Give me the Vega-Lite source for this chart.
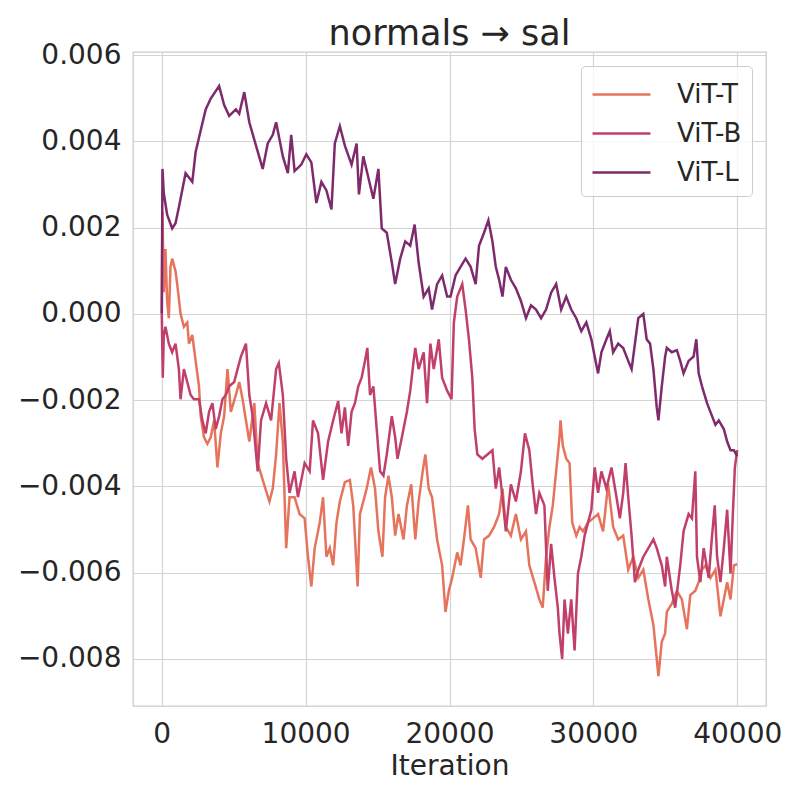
{
"$schema":"https://vega.github.io/schema/vega-lite/v6.json",
"width":633,"height":654,
"autosize":{"type":"none"},
"padding":{"left":133,"top":52,"right":34,"bottom":94},
"background":"white",
"title":{"text":"normals → sal","fontSize":35,"font":"DejaVu Sans","fontWeight":"normal","color":"#262626","offset":-11},
"config":{
"view":{"stroke":"#cccccc","strokeWidth":1.3},
"axis":{"domain":false,"ticks":false,"grid":true,"gridColor":"#d4d4d4","gridWidth":1.2,"labelFont":"DejaVu Sans","labelFontSize":28,"labelColor":"#262626","titleFont":"DejaVu Sans","titleFontSize":28,"titleFontWeight":"normal","titleColor":"#262626"},
"legend":{"orient":"top-right","offset":14,"fillColor":"rgba(255,255,255,0.8)","strokeColor":"#cccccc","cornerRadius":4,"padding":10,"symbolType":"M-1,0H2.41","symbolSize":1156,"symbolStrokeWidth":2.5,"labelFont":"DejaVu Sans","labelFontSize":26,"labelColor":"#262626","labelOffset":49,"rowPadding":7}
},
"datasets":{
"T":[{"it":0,"v":0},{"it":47,"v":0.00237},{"it":140,"v":0.0005},{"it":256,"v":0.0015},{"it":373,"v":0.0003},{"it":490,"v":-0.0001},{"it":606,"v":0.00109},{"it":723,"v":0.00128},{"it":956,"v":0.00099},{"it":1072,"v":0.00069},{"it":1305,"v":0},{"it":1538,"v":-0.0003},{"it":1772,"v":-0.0002},{"it":1888,"v":-0.00069},{"it":2121,"v":-0.00049},{"it":2354,"v":-0.00109},{"it":2587,"v":-0.00168},{"it":2704,"v":-0.00237},{"it":2937,"v":-0.00286},{"it":3170,"v":-0.00301},{"it":3403,"v":-0.00286},{"it":3636,"v":-0.00247},{"it":3869,"v":-0.00356},{"it":4103,"v":-0.00277},{"it":4336,"v":-0.00237},{"it":4569,"v":-0.00128},{"it":4802,"v":-0.00227},{"it":5151,"v":-0.00188},{"it":5385,"v":-0.00158},{"it":5618,"v":-0.00198},{"it":6084,"v":-0.00296},{"it":6433,"v":-0.00207},{"it":6666,"v":-0.00346},{"it":7016,"v":-0.00385},{"it":7482,"v":-0.00435},{"it":7716,"v":-0.00405},{"it":7949,"v":-0.00326},{"it":8182,"v":-0.00207},{"it":8415,"v":-0.00296},{"it":8648,"v":-0.00543},{"it":8881,"v":-0.00425},{"it":9231,"v":-0.00425},{"it":9580,"v":-0.00464},{"it":9930,"v":-0.00474},{"it":10163,"v":-0.00563},{"it":10396,"v":-0.00632},{"it":10629,"v":-0.00543},{"it":10979,"v":-0.00484},{"it":11212,"v":-0.00425},{"it":11445,"v":-0.00563},{"it":11678,"v":-0.00543},{"it":11911,"v":-0.00583},{"it":12144,"v":-0.00484},{"it":12378,"v":-0.00435},{"it":12727,"v":-0.0039},{"it":13076,"v":-0.00385},{"it":13309,"v":-0.00444},{"it":13613,"v":-0.00632},{"it":13776,"v":-0.00464},{"it":14009,"v":-0.00435},{"it":14242,"v":-0.00405},{"it":14545,"v":-0.00356},{"it":14824,"v":-0.00405},{"it":15058,"v":-0.00504},{"it":15337,"v":-0.00563},{"it":15524,"v":-0.00425},{"it":15757,"v":-0.00375},{"it":15990,"v":-0.00425},{"it":16223,"v":-0.00514},{"it":16456,"v":-0.00464},{"it":16806,"v":-0.00523},{"it":17039,"v":-0.00444},{"it":17342,"v":-0.00395},{"it":17622,"v":-0.00523},{"it":17855,"v":-0.00435},{"it":18135,"v":-0.00365},{"it":18321,"v":-0.00326},{"it":18554,"v":-0.00405},{"it":18787,"v":-0.00425},{"it":19137,"v":-0.00523},{"it":19487,"v":-0.00583},{"it":19720,"v":-0.00691},{"it":19953,"v":-0.00642},{"it":20186,"v":-0.00612},{"it":20536,"v":-0.00553},{"it":20769,"v":-0.00583},{"it":21003,"v":-0.00523},{"it":21282,"v":-0.00444},{"it":21469,"v":-0.00523},{"it":21818,"v":-0.00543},{"it":22168,"v":-0.00612},{"it":22401,"v":-0.00523},{"it":22750,"v":-0.00514},{"it":23100,"v":-0.00494},{"it":23450,"v":-0.00464},{"it":23683,"v":-0.00405},{"it":23916,"v":-0.00494},{"it":24266,"v":-0.00514},{"it":24615,"v":-0.00464},{"it":24965,"v":-0.00523},{"it":25315,"v":-0.00504},{"it":25548,"v":-0.00583},{"it":25897,"v":-0.00622},{"it":26247,"v":-0.00662},{"it":26480,"v":-0.00681},{"it":26713,"v":-0.00563},{"it":26946,"v":-0.00494},{"it":27180,"v":-0.00444},{"it":27413,"v":-0.00365},{"it":27646,"v":-0.00286},{"it":27716,"v":-0.00247},{"it":27879,"v":-0.00306},{"it":28112,"v":-0.00336},{"it":28345,"v":-0.00346},{"it":28532,"v":-0.00484},{"it":28811,"v":-0.00514},{"it":29044,"v":-0.00494},{"it":29278,"v":-0.00504},{"it":29627,"v":-0.00484},{"it":29977,"v":-0.00474},{"it":30326,"v":-0.00464},{"it":30676,"v":-0.00504},{"it":31026,"v":-0.00395},{"it":31375,"v":-0.00494},{"it":31725,"v":-0.00523},{"it":32075,"v":-0.00514},{"it":32424,"v":-0.00593},{"it":32774,"v":-0.00563},{"it":33123,"v":-0.00612},{"it":33473,"v":-0.00593},{"it":33823,"v":-0.00662},{"it":34173,"v":-0.00721},{"it":34406,"v":-0.008},{"it":34522,"v":-0.0084},{"it":34755,"v":-0.0076},{"it":34988,"v":-0.00741},{"it":35105,"v":-0.00691},{"it":35454,"v":-0.00672},{"it":35804,"v":-0.00642},{"it":36153,"v":-0.00662},{"it":36503,"v":-0.00731},{"it":36736,"v":-0.00652},{"it":37086,"v":-0.00642},{"it":37319,"v":-0.00622},{"it":37552,"v":-0.00593},{"it":37785,"v":-0.00583},{"it":38135,"v":-0.00612},{"it":38484,"v":-0.00593},{"it":38834,"v":-0.00701},{"it":39067,"v":-0.00662},{"it":39300,"v":-0.00622},{"it":39533,"v":-0.00662},{"it":39766,"v":-0.00583},{"it":40000,"v":-0.0058}],
"B":[{"it":0,"v":0},{"it":70,"v":-0.00148},{"it":140,"v":-0.0005},{"it":256,"v":-0.0003},{"it":490,"v":-0.00069},{"it":723,"v":-0.00089},{"it":956,"v":-0.00069},{"it":1189,"v":-0.00128},{"it":1305,"v":-0.00198},{"it":1538,"v":-0.00128},{"it":1772,"v":-0.00158},{"it":2005,"v":-0.00188},{"it":2238,"v":-0.00198},{"it":2587,"v":-0.00198},{"it":2820,"v":-0.00247},{"it":3054,"v":-0.00277},{"it":3287,"v":-0.00227},{"it":3520,"v":-0.00207},{"it":3753,"v":-0.00267},{"it":3986,"v":-0.00237},{"it":4219,"v":-0.00198},{"it":4452,"v":-0.00188},{"it":4685,"v":-0.00168},{"it":5035,"v":-0.00158},{"it":5268,"v":-0.00128},{"it":5501,"v":-0.00099},{"it":5734,"v":-0.00079},{"it":5851,"v":-0.00069},{"it":6084,"v":-0.00188},{"it":6317,"v":-0.00237},{"it":6666,"v":-0.00365},{"it":6899,"v":-0.00247},{"it":7249,"v":-0.00207},{"it":7599,"v":-0.00247},{"it":7949,"v":-0.00128},{"it":8135,"v":-0.00114},{"it":8415,"v":-0.00188},{"it":8648,"v":-0.00336},{"it":8881,"v":-0.00415},{"it":9231,"v":-0.00365},{"it":9464,"v":-0.00425},{"it":9930,"v":-0.00346},{"it":10280,"v":-0.00365},{"it":10513,"v":-0.00247},{"it":10863,"v":-0.00277},{"it":11212,"v":-0.00385},{"it":11562,"v":-0.00296},{"it":11911,"v":-0.00247},{"it":12261,"v":-0.00202},{"it":12494,"v":-0.00277},{"it":12727,"v":-0.00217},{"it":12960,"v":-0.00306},{"it":13193,"v":-0.00227},{"it":13426,"v":-0.00207},{"it":13659,"v":-0.00168},{"it":13892,"v":-0.00148},{"it":14125,"v":-0.00109},{"it":14289,"v":-0.00079},{"it":14475,"v":-0.00188},{"it":14708,"v":-0.00168},{"it":14941,"v":-0.00267},{"it":15174,"v":-0.00365},{"it":15407,"v":-0.00375},{"it":15640,"v":-0.00326},{"it":15990,"v":-0.00237},{"it":16223,"v":-0.00286},{"it":16386,"v":-0.00336},{"it":16689,"v":-0.00286},{"it":17039,"v":-0.00227},{"it":17272,"v":-0.00178},{"it":17505,"v":-0.00109},{"it":17622,"v":-0.00079},{"it":17855,"v":-0.00128},{"it":18205,"v":-0.00089},{"it":18438,"v":-0.00207},{"it":18671,"v":-0.00069},{"it":18904,"v":-0.00128},{"it":19254,"v":-0.00059},{"it":19487,"v":-0.00148},{"it":19836,"v":-0.00178},{"it":20140,"v":-0.00198},{"it":20303,"v":-0.0002},{"it":20536,"v":0.0004},{"it":20886,"v":0.00069},{"it":21119,"v":0.0001},{"it":21352,"v":-0.00059},{"it":21585,"v":-0.00148},{"it":21748,"v":-0.00267},{"it":21935,"v":-0.00326},{"it":22284,"v":-0.00336},{"it":22634,"v":-0.00326},{"it":22984,"v":-0.00316},{"it":23217,"v":-0.00405},{"it":23450,"v":-0.00356},{"it":23683,"v":-0.00425},{"it":23916,"v":-0.00504},{"it":24266,"v":-0.00395},{"it":24615,"v":-0.00435},{"it":24965,"v":-0.00365},{"it":25245,"v":-0.00277},{"it":25548,"v":-0.00316},{"it":25781,"v":-0.00395},{"it":26014,"v":-0.00464},{"it":26247,"v":-0.00415},{"it":26597,"v":-0.00444},{"it":26830,"v":-0.00642},{"it":27063,"v":-0.00533},{"it":27296,"v":-0.00612},{"it":27529,"v":-0.00681},{"it":27646,"v":-0.00741},{"it":27832,"v":-0.008},{"it":27996,"v":-0.00662},{"it":28229,"v":-0.00741},{"it":28462,"v":-0.00662},{"it":28695,"v":-0.0078},{"it":28928,"v":-0.00602},{"it":29161,"v":-0.00563},{"it":29394,"v":-0.00514},{"it":29627,"v":-0.00484},{"it":29860,"v":-0.00454},{"it":30093,"v":-0.00356},{"it":30326,"v":-0.00415},{"it":30560,"v":-0.00365},{"it":30909,"v":-0.00405},{"it":31259,"v":-0.00356},{"it":31609,"v":-0.00425},{"it":31842,"v":-0.00474},{"it":32075,"v":-0.00415},{"it":32238,"v":-0.00346},{"it":32424,"v":-0.00425},{"it":32657,"v":-0.00514},{"it":32890,"v":-0.00622},{"it":33123,"v":-0.00593},{"it":33473,"v":-0.00563},{"it":33823,"v":-0.00543},{"it":34173,"v":-0.00523},{"it":34406,"v":-0.00543},{"it":34755,"v":-0.00583},{"it":34988,"v":-0.00632},{"it":35105,"v":-0.00563},{"it":35454,"v":-0.00642},{"it":35687,"v":-0.00681},{"it":36037,"v":-0.00583},{"it":36270,"v":-0.00504},{"it":36620,"v":-0.00464},{"it":36853,"v":-0.00474},{"it":37086,"v":-0.00365},{"it":37202,"v":-0.00563},{"it":37435,"v":-0.00622},{"it":37668,"v":-0.00543},{"it":38018,"v":-0.00612},{"it":38251,"v":-0.00514},{"it":38437,"v":-0.00444},{"it":38600,"v":-0.00563},{"it":38834,"v":-0.00622},{"it":39067,"v":-0.00543},{"it":39300,"v":-0.00454},{"it":39533,"v":-0.00602},{"it":39696,"v":-0.00464},{"it":39836,"v":-0.00356},{"it":40000,"v":-0.00316}],
"L":[{"it":0,"v":0},{"it":47,"v":0.00336},{"it":140,"v":0.0028},{"it":373,"v":0.0023},{"it":723,"v":0.00198},{"it":956,"v":0.0021},{"it":1189,"v":0.00247},{"it":1655,"v":0.00326},{"it":2121,"v":0.00306},{"it":2354,"v":0.00375},{"it":2704,"v":0.00425},{"it":3054,"v":0.00474},{"it":3403,"v":0.00499},{"it":3986,"v":0.00528},{"it":4336,"v":0.00484},{"it":4685,"v":0.00459},{"it":5151,"v":0.00474},{"it":5385,"v":0.00464},{"it":5734,"v":0.00514},{"it":6084,"v":0.00444},{"it":6550,"v":0.0039},{"it":7016,"v":0.00336},{"it":7366,"v":0.00395},{"it":7716,"v":0.00415},{"it":7949,"v":0.00444},{"it":8415,"v":0.00365},{"it":8764,"v":0.00326},{"it":8998,"v":0.00415},{"it":9231,"v":0.00331},{"it":9697,"v":0.00346},{"it":10047,"v":0.0037},{"it":10396,"v":0.00351},{"it":10746,"v":0.00257},{"it":11096,"v":0.00306},{"it":11445,"v":0.00286},{"it":11795,"v":0.00242},{"it":12028,"v":0.00395},{"it":12378,"v":0.00435},{"it":12727,"v":0.0039},{"it":13193,"v":0.00346},{"it":13543,"v":0.00395},{"it":13706,"v":0.00277},{"it":14009,"v":0.00365},{"it":14358,"v":0.00316},{"it":14708,"v":0.00267},{"it":15058,"v":0.00336},{"it":15291,"v":0.00198},{"it":15640,"v":0.00188},{"it":15990,"v":0.00119},{"it":16223,"v":0.00069},{"it":16573,"v":0.00128},{"it":16922,"v":0.00168},{"it":17272,"v":0.00158},{"it":17575,"v":0.00207},{"it":17855,"v":0.00119},{"it":18205,"v":0.0004},{"it":18554,"v":0.00059},{"it":18787,"v":0.0001},{"it":19137,"v":0.00069},{"it":19487,"v":0.00089},{"it":19836,"v":0.0004},{"it":20070,"v":0.0004},{"it":20420,"v":0.00089},{"it":20769,"v":0.00109},{"it":21119,"v":0.00128},{"it":21469,"v":0.00109},{"it":21818,"v":0.00069},{"it":22051,"v":0.00158},{"it":22401,"v":0.00188},{"it":22704,"v":0.00217},{"it":22984,"v":0.00168},{"it":23217,"v":0.00109},{"it":23450,"v":0.00079},{"it":23683,"v":0.0004},{"it":23916,"v":0.00109},{"it":24266,"v":0.00079},{"it":24615,"v":0.00059},{"it":24965,"v":0.0003},{"it":25315,"v":-0.0001},{"it":25664,"v":0.0002},{"it":26014,"v":0.0001},{"it":26364,"v":-0.0001},{"it":26713,"v":0.0001},{"it":27063,"v":0.00049},{"it":27413,"v":0.00069},{"it":27762,"v":0.0001},{"it":28112,"v":0.0004},{"it":28462,"v":0.0001},{"it":28811,"v":-0.0001},{"it":29161,"v":-0.0004},{"it":29511,"v":-0.0002},{"it":29860,"v":-0.00059},{"it":30093,"v":-0.00099},{"it":30326,"v":-0.00138},{"it":30560,"v":-0.00089},{"it":30909,"v":-0.00059},{"it":31142,"v":-0.0004},{"it":31375,"v":-0.00089},{"it":31725,"v":-0.00069},{"it":32075,"v":-0.00079},{"it":32424,"v":-0.00109},{"it":32657,"v":-0.00128},{"it":32890,"v":-0.00069},{"it":33123,"v":-0.0001},{"it":33473,"v":0},{"it":33706,"v":-0.00059},{"it":33940,"v":-0.00069},{"it":34173,"v":-0.00128},{"it":34406,"v":-0.00217},{"it":34522,"v":-0.00247},{"it":34755,"v":-0.00168},{"it":34988,"v":-0.00099},{"it":35105,"v":-0.00079},{"it":35454,"v":-0.00089},{"it":35804,"v":-0.00084},{"it":36037,"v":-0.00109},{"it":36270,"v":-0.00138},{"it":36620,"v":-0.00109},{"it":36969,"v":-0.00099},{"it":37156,"v":-0.00059},{"it":37319,"v":-0.00138},{"it":37552,"v":-0.00168},{"it":37902,"v":-0.00207},{"it":38251,"v":-0.00237},{"it":38484,"v":-0.00257},{"it":38717,"v":-0.00247},{"it":39067,"v":-0.00267},{"it":39300,"v":-0.00296},{"it":39533,"v":-0.00316},{"it":39766,"v":-0.00316},{"it":40000,"v":-0.0033}]
},
"encoding":{
"x":{"field":"it","type":"quantitative","title":"Iteration","scale":{"domain":[-2000,42000],"nice":false,"zero":false},"axis":{"values":[0,10000,20000,30000,40000],"format":"d","labelPadding":14,"titlePadding":4}},
"y":{"field":"v","type":"quantitative","title":null,"scale":{"domain":[-0.00909,0.00607],"nice":false,"zero":false},"axis":{"values":[-0.008,-0.006,-0.004,-0.002,0,0.002,0.004,0.006],"format":".3f","labelPadding":12}},
"color":{"type":"nominal","scale":{"domain":["ViT-T","ViT-B","ViT-L"],"range":["#e6735c","#c1406a","#7e2b6e"]},"legend":{"title":null}}
},
"layer":[
{"data":{"name":"T"},"mark":{"type":"line","strokeWidth":2.5,"clip":true},"encoding":{"color":{"datum":"ViT-T"}}},
{"data":{"name":"B"},"mark":{"type":"line","strokeWidth":2.5,"clip":true},"encoding":{"color":{"datum":"ViT-B"}}},
{"data":{"name":"L"},"mark":{"type":"line","strokeWidth":2.5,"clip":true},"encoding":{"color":{"datum":"ViT-L"}}}
]
}
